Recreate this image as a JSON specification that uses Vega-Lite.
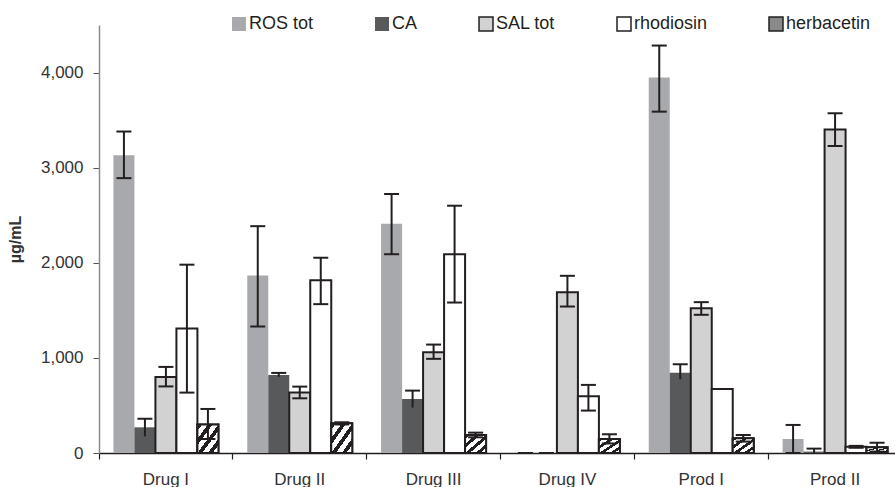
{
  "$schema": "https://vega.github.io/schema/vega-lite/v6.json",
  "width": 796,
  "height": 428,
  "autosize": {"type": "none"},
  "padding": {"left": 99, "top": 25, "right": 0, "bottom": 34},
  "background": "white",
  "config": {"view": {"stroke": null}, "font": "Liberation Sans"},
  "data": {
    "values": [
      {"group": "Drug  I", "series": "ROS tot", "value": 3130, "lo": 2890, "hi": 3380},
      {"group": "Drug  I", "series": "CA", "value": 270, "lo": 175, "hi": 360},
      {"group": "Drug  I", "series": "SAL tot", "value": 800, "lo": 700, "hi": 905},
      {"group": "Drug  I", "series": "rhodiosin", "value": 1310, "lo": 635, "hi": 1980},
      {"group": "Drug  I", "series": "herbacetin", "value": 300, "lo": 147, "hi": 463},
      {"group": "Drug  II", "series": "ROS tot", "value": 1865, "lo": 1330, "hi": 2385},
      {"group": "Drug  II", "series": "CA", "value": 820, "lo": 800, "hi": 842},
      {"group": "Drug  II", "series": "SAL tot", "value": 635, "lo": 575, "hi": 698},
      {"group": "Drug  II", "series": "rhodiosin", "value": 1815, "lo": 1565, "hi": 2053},
      {"group": "Drug  II", "series": "herbacetin", "value": 312, "lo": 300, "hi": 323},
      {"group": "Drug III", "series": "ROS tot", "value": 2410, "lo": 2090, "hi": 2723},
      {"group": "Drug III", "series": "CA", "value": 568, "lo": 478, "hi": 656},
      {"group": "Drug III", "series": "SAL tot", "value": 1060, "lo": 990, "hi": 1140},
      {"group": "Drug III", "series": "rhodiosin", "value": 2090, "lo": 1582, "hi": 2600},
      {"group": "Drug III", "series": "herbacetin", "value": 190, "lo": 165, "hi": 214},
      {"group": "Drug IV", "series": "ROS tot", "value": 0, "lo": 0, "hi": 0},
      {"group": "Drug IV", "series": "CA", "value": 0, "lo": 0, "hi": 0},
      {"group": "Drug IV", "series": "SAL tot", "value": 1690, "lo": 1540, "hi": 1863},
      {"group": "Drug IV", "series": "rhodiosin", "value": 596, "lo": 446, "hi": 716},
      {"group": "Drug IV", "series": "herbacetin", "value": 147, "lo": 100, "hi": 197},
      {"group": "Prod I", "series": "ROS tot", "value": 3947, "lo": 3589, "hi": 4284},
      {"group": "Prod I", "series": "CA", "value": 845, "lo": 776, "hi": 933},
      {"group": "Prod I", "series": "SAL tot", "value": 1523, "lo": 1453, "hi": 1586},
      {"group": "Prod I", "series": "rhodiosin", "value": 674, "lo": null, "hi": null},
      {"group": "Prod I", "series": "herbacetin", "value": 154, "lo": 120, "hi": 189},
      {"group": "Prod II", "series": "ROS tot", "value": 147, "lo": 0, "hi": 295},
      {"group": "Prod II", "series": "CA", "value": 15, "lo": 0, "hi": 46},
      {"group": "Prod II", "series": "SAL tot", "value": 3400, "lo": 3228, "hi": 3572},
      {"group": "Prod II", "series": "rhodiosin", "value": 65, "lo": 55, "hi": 75},
      {"group": "Prod II", "series": "herbacetin", "value": 60, "lo": 15, "hi": 108}
    ]
  },
  "encoding": {
    "x": {
      "field": "group",
      "type": "nominal",
      "sort": ["Drug  I", "Drug  II", "Drug III", "Drug IV", "Prod I", "Prod II"],
      "scale": {"range": [0, 803], "paddingInner": 0.2155, "paddingOuter": 0.1078},
      "axis": {
        "title": null,
        "labelAngle": 0,
        "labelFontSize": 17,
        "labelColor": "#333333",
        "labelPadding": 12,
        "tickSize": 6,
        "tickColor": "#231f20",
        "tickWidth": 1.2,
        "domainColor": "#231f20",
        "domainWidth": 1.5,
        "bandPosition": -0.137
      }
    },
    "xOffset": {
      "field": "series",
      "type": "nominal",
      "scale": {"domain": ["ROS tot", "CA", "SAL tot", "rhodiosin", "herbacetin"], "paddingInner": 0, "paddingOuter": 0}
    }
  },
  "layer": [
    {
      "mark": {"type": "bar", "strokeWidth": 2},
      "encoding": {
        "y": {
          "field": "value",
          "type": "quantitative",
          "scale": {"domain": [0, 4500], "nice": false},
          "axis": {
            "values": [0, 1000, 2000, 3000, 4000],
            "format": ",.0f",
            "title": "µg/mL",
            "titleFontSize": 16,
            "titleFontWeight": "bold",
            "titleColor": "#333333",
            "titlePadding": 17,
            "labelFontSize": 17,
            "labelColor": "#333333",
            "labelPadding": 10,
            "tickSize": 6,
            "tickColor": "#555555",
            "domainColor": "#8c8c8c",
            "domainWidth": 1.5,
            "grid": false
          }
        },
        "fill": {
          "field": "series",
          "type": "nominal",
          "scale": {
            "domain": ["ROS tot", "CA", "SAL tot", "rhodiosin", "herbacetin"],
            "range": ["#a7a9ac", "#58595b", "#d2d2d2", "#ffffff", "#8a8a8a"]
          },
          "legend": {
            "orient": "none",
            "legendX": 131,
            "legendY": -10,
            "direction": "horizontal",
            "title": null,
            "symbolType": "square",
            "symbolSize": 196,
            "symbolStrokeWidth": 1.5,
            "labelFontSize": 18,
            "labelColor": "#231f20",
            "labelOffset": 1,
            "columnPadding": 58,
            "padding": 0
          }
        },
        "stroke": {
          "field": "series",
          "type": "nominal",
          "scale": {
            "domain": ["ROS tot", "CA", "SAL tot", "rhodiosin", "herbacetin"],
            "range": ["transparent", "transparent", "#231f20", "#231f20", "#231f20"]
          },
          "legend": {
            "orient": "none",
            "legendX": 131,
            "legendY": -10,
            "direction": "horizontal",
            "title": null,
            "symbolType": "square",
            "symbolSize": 196,
            "symbolStrokeWidth": 1.5,
            "labelFontSize": 18,
            "labelColor": "#231f20",
            "labelOffset": 1,
            "columnPadding": 58,
            "padding": 0
          }
        }
      }
    },
    {
      "transform": [{"filter": "datum.series === 'herbacetin'"}],
      "mark": {
        "type": "bar",
        "strokeWidth": 2,
        "stroke": "#231f20",
        "fill": {"gradient": "linear", "x1": 0, "y1": 0, "x2": 1, "y2": 1,
          "stops": [
            {"offset": 0, "color": "#231f20"}, {"offset": 0.11, "color": "#231f20"},
            {"offset": 0.11, "color": "#ffffff"}, {"offset": 0.25, "color": "#ffffff"},
            {"offset": 0.25, "color": "#231f20"}, {"offset": 0.36, "color": "#231f20"},
            {"offset": 0.36, "color": "#ffffff"}, {"offset": 0.5, "color": "#ffffff"},
            {"offset": 0.5, "color": "#231f20"}, {"offset": 0.61, "color": "#231f20"},
            {"offset": 0.61, "color": "#ffffff"}, {"offset": 0.75, "color": "#ffffff"},
            {"offset": 0.75, "color": "#231f20"}, {"offset": 0.86, "color": "#231f20"},
            {"offset": 0.86, "color": "#ffffff"}, {"offset": 1, "color": "#ffffff"}
          ]}
      },
      "encoding": {
        "y": {"field": "value", "type": "quantitative"}
      }
    },
    {
      "mark": {"type": "rule", "strokeWidth": 2, "color": "#231f20"},
      "encoding": {
        "y": {"field": "lo", "type": "quantitative"},
        "y2": {"field": "hi"}
      }
    },
    {
      "mark": {"type": "tick", "thickness": 2, "size": 15, "color": "#231f20", "opacity": 1},
      "encoding": {
        "y": {"field": "hi", "type": "quantitative"}
      }
    },
    {
      "transform": [{"filter": "datum.series !== 'CA'"}],
      "mark": {"type": "tick", "thickness": 2, "size": 15, "color": "#231f20", "opacity": 1},
      "encoding": {
        "y": {"field": "lo", "type": "quantitative"}
      }
    }
  ]
}
